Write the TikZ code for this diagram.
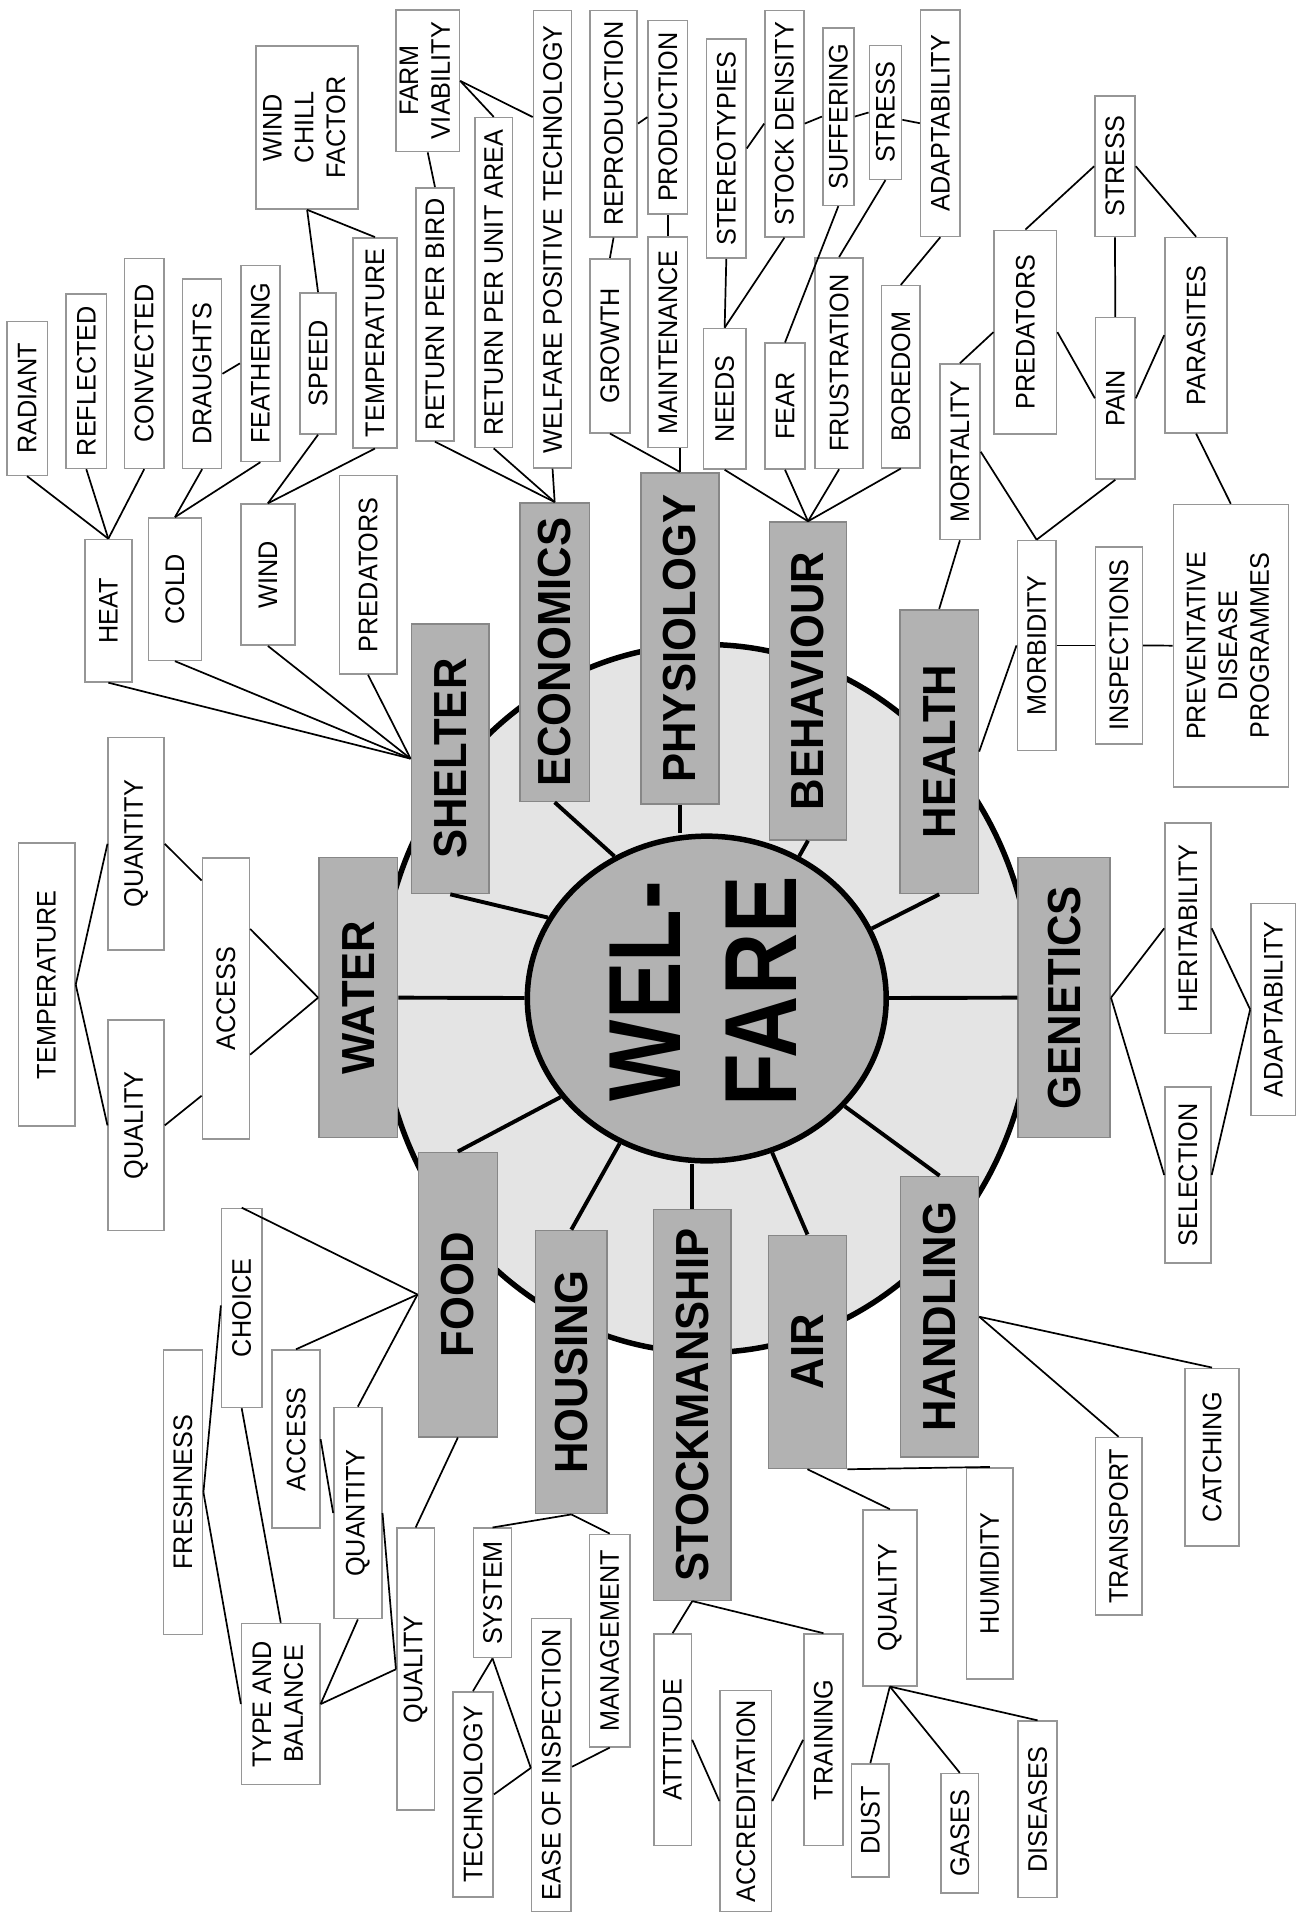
\documentclass[tikz,border=0pt]{standalone}
\usepackage{graphicx}
\usepackage{fontspec}
\setmainfont{Liberation Sans}[FakeStretch=0.94]
\newfontfamily\welfont{Liberation Sans}[FakeStretch=0.84]
\usetikzlibrary{shapes.geometric,calc}
\definecolor{mainfill}{RGB}{178,178,178}
\definecolor{mainedge}{RGB}{135,135,135}
\definecolor{ringfill}{RGB}{228,228,228}
\definecolor{boxedge}{RGB}{150,150,150}
\tikzset{
  sbox/.style={draw=boxedge, line width=1.3pt, fill=white, inner sep=0pt, font=\fontsize{22}{26}\selectfont},
  mbox/.style={draw=mainedge, line width=1.3pt, fill=mainfill, inner sep=0pt, font=\fontsize{38}{42}\selectfont\bfseries},
  link/.style={line width=1.4pt, black},
  spoke/.style={line width=3.2pt, black},
}
\newcommand\ml[1]{\begin{tabular}{@{}c@{}}#1\end{tabular}}
\newcommand\Bx[7][sbox]{%
  \pgfmathsetmacro\Bw{#5-#3}%
  \pgfmathsetmacro\Bh{#6-#4}%
  \pgfmathsetmacro\Bcx{(#3+#5)/2}%
  \pgfmathsetmacro\Bcy{(#4+#6)/2}%
  \node[#1,minimum width=\Bw pt,minimum height=\Bh pt] (#2) at (\Bcx,\Bcy) {\rotatebox{90}{#7}};}
\begin{document}
\begin{tikzpicture}[x=1pt,y=-1pt]
\useasboundingbox (0,0) rectangle (1064,1568);
\fill[white] (0,0) rectangle (1064,1568);
% outer ring
\draw[line width=4.5pt, fill=ringfill] (578.5,818) ellipse [x radius=267.5, y radius=290];
% centre
\node[ellipse, draw=black, line width=4.5pt, fill=mainfill, minimum width=294pt, minimum height=266pt, inner sep=0pt] (welfare) at (579,818) {};
\node[font=\welfont\bfseries\fontsize{84}{95}\selectfont, inner sep=0pt] (weltext) at (586,812) {\rotatebox{90}{\ml{WEL-\\FARE}}};
% main boxes
\Bx[mbox]{water}{261.3}{702.6}{325.8}{932}{WATER}
\Bx[mbox]{shelter}{337}{511}{400.8}{732}{SHELTER}
\Bx[mbox]{economics}{425.8}{412}{483}{656.6}{ECONOMICS}
\Bx[mbox]{physiology}{525}{387.3}{589}{658.7}{PHYSIOLOGY}
\Bx[mbox]{behaviour}{630.4}{427.7}{693.5}{688}{BEHAVIOUR}
\Bx[mbox]{health}{737.3}{499.5}{801.5}{732}{HEALTH}
\Bx[mbox]{genetics}{834}{702.6}{909.5}{932}{GENETICS}
\Bx[mbox]{handling}{737.8}{963.8}{801.6}{1193.6}{HANDLING}
\Bx[mbox]{air}{629.5}{1012}{693.5}{1203}{AIR}
\Bx[mbox]{stockmanship}{535.3}{991}{599}{1311}{STOCKMANSHIP}
\Bx[mbox]{housing}{438.8}{1008}{497.3}{1240}{HOUSING}
\Bx[mbox]{food}{342.7}{944}{407.5}{1177}{FOOD}
% spokes
\draw[spoke] (welfare) -- (water.east);
\draw[spoke] (welfare) -- (genetics.west);
\draw[spoke] (welfare.153.3) -- (shelter.south);
\draw[spoke] (welfare.123.9) -- (economics.south);
\draw[spoke] (physiology.south) -- (physiology.south |- welfare.north);
\draw[spoke] (welfare.57.9) -- (behaviour.south);
\draw[spoke] (welfare.23.7) -- (health.south);
\draw[spoke] (welfare.-38) -- (handling.north);
\draw[spoke] (welfare.-67.3) -- (air.north);
\draw[spoke] (stockmanship.north) -- (stockmanship.north |- welfare.south);
\draw[spoke] (welfare.-121.3) -- (housing.north);
\draw[spoke] (welfare.214.9) -- (food.north);
% shelter branch
\Bx{radiant}{5.5}{263.3}{38.8}{389.4}{RADIANT}
\Bx{reflected}{54}{240.8}{87.4}{383.7}{REFLECTED}
\Bx{convected}{101.9}{211.8}{134.4}{383.7}{CONVECTED}
\Bx{draughts}{149.6}{228.7}{181.6}{383.7}{DRAUGHTS}
\Bx{feathering}{197.2}{217.4}{229.4}{378}{FEATHERING}
\Bx{speed}{245.8}{240}{275.3}{355.5}{SPEED}
\Bx{temptop}{289.4}{194.9}{325}{366.8}{TEMPERATURE}
\Bx{windchill}{209.7}{37.6}{293.5}{171.2}{\ml{WIND\\CHILL\\FACTOR}}
\Bx{heat}{69.6}{442}{107.9}{558.6}{HEAT}
\Bx{cold}{121.5}{424.3}{165.2}{541}{COLD}
\Bx{wind}{197.2}{413}{241.7}{528.5}{WIND}
\Bx{predshelter}{278}{389.4}{325}{552.2}{PREDATORS}
% economics branch
\Bx{retbird}{340.8}{153.9}{371.9}{361.2}{RETURN PER BIRD}
\Bx{farmviab}{325}{8.4}{375.8}{124.2}{\ml{FARM\\VIABILITY}}
\Bx{retarea}{389}{96.4}{420}{366.7}{RETURN PER UNIT AREA}
\Bx{wpt}{437}{8.5}{468.3}{383.3}{WELFARE POSITIVE TECHNOLOGY}
% physiology branch
\Bx{reproduction}{483.3}{8.5}{522}{194}{REPRODUCTION}
\Bx{production}{531}{16.7}{563.3}{175.2}{PRODUCTION}
\Bx{growth}{483.3}{212}{516}{354.5}{GROWTH}
\Bx{maintenance}{531}{194}{563.3}{366.7}{MAINTENANCE}
% behaviour branch
\Bx{stereotypies}{578.9}{31.8}{611.1}{211.5}{STEREOTYPIES}
\Bx{stockdensity}{626.7}{8.5}{658.6}{194}{STOCK DENSITY}
\Bx{needs}{576.2}{269.1}{611.1}{384.2}{NEEDS}
\Bx{fear}{626.7}{281.2}{659.5}{384.2}{FEAR}
\Bx{suffering}{674}{22.8}{699.6}{168.2}{SUFFERING}
\Bx{stressb}{712.2}{37.4}{738.6}{146.9}{STRESS}
\Bx{adapttop}{754.2}{8.2}{786.4}{193.7}{ADAPTABILITY}
\Bx{frustration}{667.6}{211.2}{707.2}{383.8}{FRUSTRATION}
\Bx{boredom}{722.3}{234}{753.7}{383.2}{BOREDOM}
% health branch
\Bx{mortality}{770}{298.2}{802.8}{442}{MORTALITY}
\Bx{predhealth}{814.5}{188.7}{865.6}{355.5}{PREDATORS}
\Bx{stressh}{897}{78.6}{929.8}{193.8}{STRESS}
\Bx{pain}{897.6}{260.2}{929.8}{392.4}{PAIN}
\Bx{parasites}{954.4}{194.6}{1005.4}{354.6}{PARASITES}
\Bx{morbidity}{833.4}{442.8}{865}{614.7}{MORBIDITY}
\Bx{inspections}{897.6}{448}{935.8}{609.5}{INSPECTIONS}
\Bx{preventative}{961.2}{413.4}{1055.4}{644.5}{\ml{PREVENTATIVE\\DISEASE\\PROGRAMMES}}
% genetics branch
\Bx{heritability}{954.4}{674.2}{992}{846.8}{HERITABILITY}
\Bx{adaptright}{1024.8}{740.2}{1061.4}{913.7}{ADAPTABILITY}
\Bx{selection}{954.4}{890.5}{992}{1034.7}{SELECTION}
% water branch
\Bx{tempwater}{15}{690.7}{61.4}{922.6}{TEMPERATURE}
\Bx{quantw}{88.7}{604.3}{134.3}{778.2}{QUANTITY}
\Bx{qualw}{88.7}{835.8}{134.3}{1008.1}{QUALITY}
\Bx{accessw}{165.8}{703}{204.3}{933}{ACCESS}
% food branch
\Bx{choice}{181.6}{990}{214.4}{1153}{CHOICE}
\Bx{freshness}{133.8}{1106}{166}{1339}{FRESHNESS}
\Bx{accessf}{223}{1106}{262}{1252}{ACCESS}
\Bx{quantf}{273.6}{1153}{312.7}{1326}{QUANTITY}
\Bx{typebal}{198}{1330}{262}{1462}{\ml{TYPE AND\\BALANCE}}
\Bx{qualf}{325}{1252}{356}{1483}{QUALITY}
% housing branch
\Bx{system}{388}{1252}{419}{1358}{SYSTEM}
\Bx{technology}{371}{1386}{404}{1554}{TECHNOLOGY}
\Bx{ease}{435.5}{1326}{468}{1566}{EASE OF INSPECTION}
\Bx{management}{483}{1257}{516}{1431}{MANAGEMENT}
% stockmanship branch
\Bx{attitude}{535.6}{1338.6}{566.4}{1512}{ATTITUDE}
\Bx{accreditation}{590}{1385}{632}{1566}{ACCREDITATION}
\Bx{training}{658.6}{1338.6}{690.6}{1512}{TRAINING}
% air branch
\Bx{qualair}{707}{1237}{751}{1381}{QUALITY}
\Bx{humidity}{791.7}{1202.4}{830}{1375.5}{HUMIDITY}
\Bx{dust}{697.7}{1445}{728.3}{1537.7}{DUST}
\Bx{gases}{771}{1453}{801.6}{1551}{GASES}
\Bx{diseases}{834}{1410}{866}{1554.6}{DISEASES}
% handling branch
\Bx{transport}{897.4}{1177.7}{935.4}{1323}{TRANSPORT}
\Bx{catching}{970.8}{1121}{1015}{1266.6}{CATCHING}
% ---- connectors
\draw[link] (radiant.south) -- (heat.north);
\draw[link] (reflected.south) -- (heat.north);
\draw[link] (convected.south) -- (heat.north);
\draw[link] (draughts.south) -- (cold.north);
\draw[link] (feathering.south) -- (cold.north);
\draw[link] (draughts.east) -- (feathering.west);
\draw[link] (speed.south) -- (wind.north);
\draw[link] (temptop.south) -- (wind.north);
\draw[link] (speed.north) -- (windchill.south);
\draw[link] (temptop.north) -- (windchill.south);
\foreach \n in {heat,cold,wind,predshelter} \draw[link] (\n.south) -- (shelter.west);
\draw[link] (farmviab.south) -- (retbird.north);
\draw[link] (farmviab.east) -- (retarea.north);
\draw[link] (farmviab.east) -- ([yshift=-88pt]wpt.north west);
\foreach \n in {retbird,retarea,wpt} \draw[link] (\n.south) -- (economics.north);
\draw[link] (reproduction.east) -- (production.west);
\draw[link] (growth.north) -- (reproduction.south);
\draw[link] (maintenance.north) -- (production.south);
\draw[link] (growth.south) -- (physiology.north);
\draw[link] (maintenance.south -| physiology.north) -- (physiology.north);
\draw[link] (stereotypies.east) -- (stockdensity.west);
\draw[link] (needs.north) -- (stereotypies.south);
\draw[link] (needs.north) -- (stockdensity.south);
\draw[link] (stockdensity.east) -- (suffering.west);
\draw[link] (suffering.east) -- (stressb.west);
\draw[link] ([yshift=-6pt]stressb.east) -- (adapttop.west);
\draw[link] (fear.north) -- (suffering.south);
\draw[link] (frustration.north) -- (stressb.south);
\draw[link] (boredom.north) -- (adapttop.south);
\foreach \n in {needs,fear,frustration,boredom} \draw[link] (\n.south) -- (behaviour.north);
\draw[link] (health.north) -- (mortality.south);
\draw[link] (health.east) -- (morbidity.west);
\draw[link] (mortality.north) -- (predhealth.west);
\draw[link] (mortality.east) -- (morbidity.north);
\draw[link] (predhealth.north) -- (stressh.west);
\draw[link] (stressh.east) -- (parasites.north);
\draw[link] (stressh.south) -- (pain.north);
\draw[link] (predhealth.east) -- (pain.west);
\draw[link] (pain.east) -- (parasites.west);
\draw[link] (pain.south) -- (morbidity.north);
\draw[link] (parasites.south) -- (preventative.north);
\draw[link] (morbidity.east) -- (inspections.west);
\draw[link] (inspections.east) -- (preventative.west);
\draw[link] (genetics.east) -- (heritability.west);
\draw[link] (genetics.east) -- (selection.west);
\draw[link] (heritability.east) -- (adaptright.west);
\draw[link] (selection.east) -- (adaptright.west);
\draw[link] (tempwater.east) -- (quantw.west);
\draw[link] (tempwater.east) -- (qualw.west);
\draw[link] (quantw.east) -- ([yshift=-19pt]accessw.north west);
\draw[link] (qualw.east) -- ([yshift=36pt]accessw.south west);
\draw[link] ([yshift=57pt]accessw.east) -- (water.west);
\draw[link] ([yshift=-46pt]accessw.east) -- (water.west);
\foreach \n in {choice,accessf,quantf} \draw[link] (\n.north) -- (food.west);
\draw[link] (food.south) -- (qualf.north);
\draw[link] (freshness.east) -- ([yshift=-80pt]choice.north west);
\draw[link] (freshness.east) -- (typebal.west);
\draw[link] (choice.south) -- (typebal.north);
\draw[link] (accessf.east) -- (quantf.west);
\draw[link] (quantf.east) -- (qualf.west);
\draw[link] (quantf.south) -- (typebal.east);
\draw[link] (typebal.east) -- (qualf.west);
\draw[link] (housing.south) -- (system.north);
\draw[link] (housing.south) -- (management.north);
\draw[link] (system.south) -- (technology.north);
\draw[link] (system.south) -- ([yshift=-123pt]ease.north west);
\draw[link] (technology.east) -- ([yshift=-123pt]ease.north west);
\draw[link] (management.south) -- ([yshift=-122pt]ease.north east);
\draw[link] (stockmanship.south) -- (attitude.north);
\draw[link] (stockmanship.south) -- (training.north);
\draw[link] (attitude.east) -- (accreditation.west);
\draw[link] (training.west) -- (accreditation.east);
\draw[link] (air.south) -- (qualair.north);
\draw[link] (air.south east) -- (humidity.north);
\foreach \n in {dust,gases,diseases} \draw[link] (qualair.south) -- (\n.north);
\draw[link] (handling.east) -- (catching.north);
\draw[link] (handling.east) -- (transport.north);
\end{tikzpicture}
\end{document}
